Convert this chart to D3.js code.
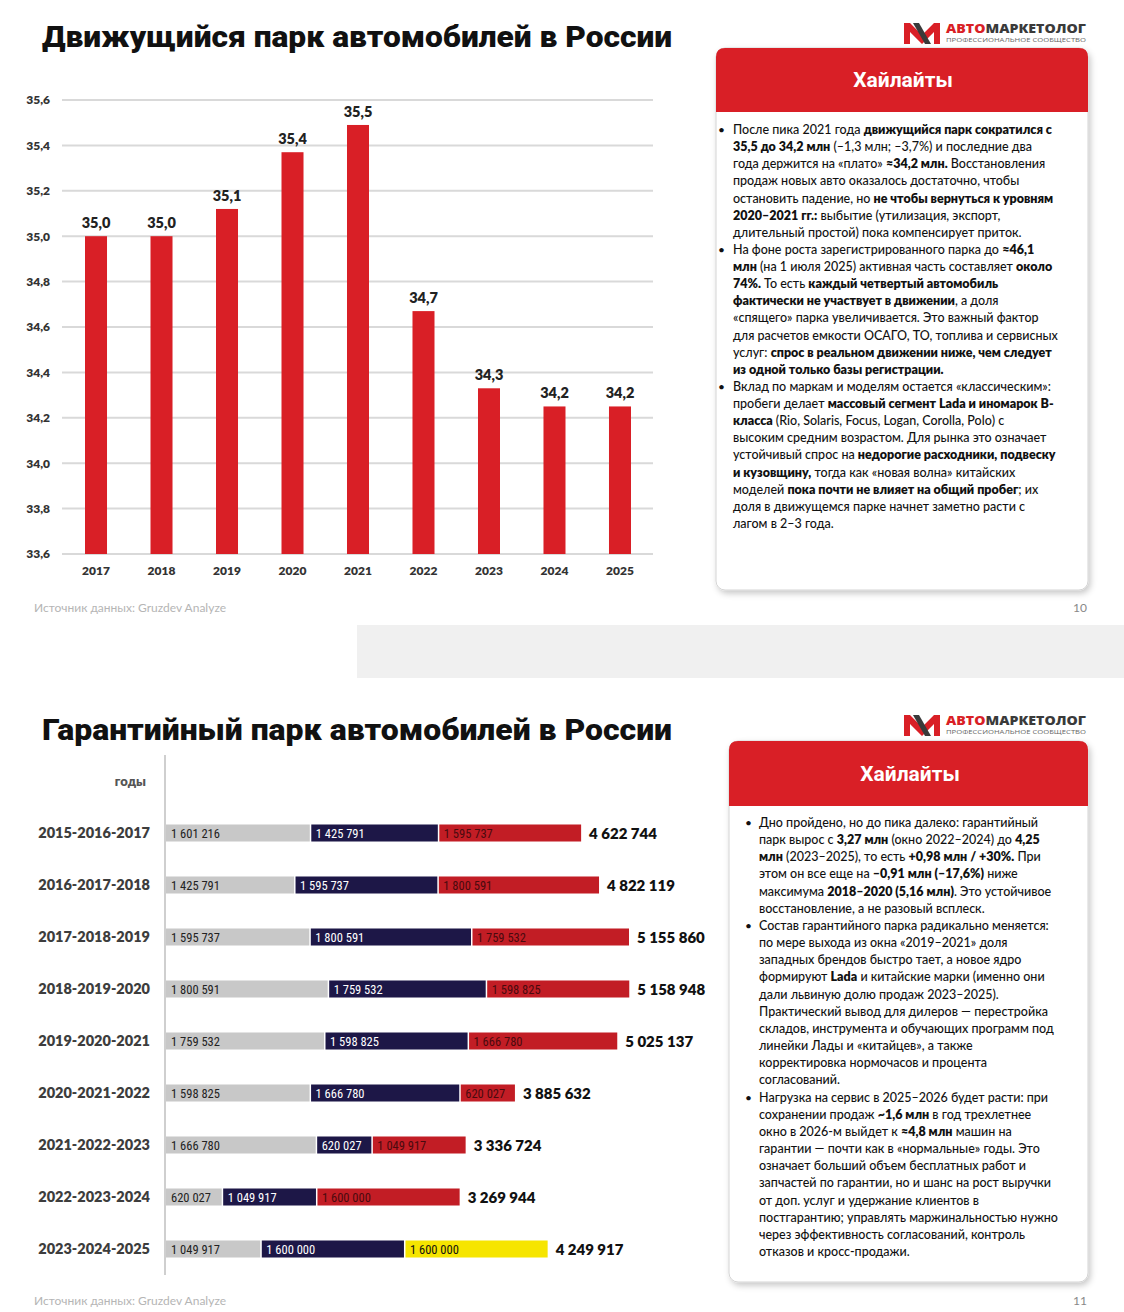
<!DOCTYPE html>
<html><head><meta charset="utf-8">
<script src="https://cdn.jsdelivr.net/npm/d3@7/dist/d3.min.js"></script>
<style>body{margin:0;background:#fff}svg{display:block}</style>
</head><body>
<script>
// ---------- data: chart 1 ----------
const years = ["2017","2018","2019","2020","2021","2022","2023","2024","2025"];
const fleetValues = [35.0, 35.0, 35.12, 35.37, 35.49, 34.67, 34.33, 34.25, 34.25];
const fleetLabels = ["35,0","35,0","35,1","35,4","35,5","34,7","34,3","34,2","34,2"];
const yTicks = [33.6,33.8,34.0,34.2,34.4,34.6,34.8,35.0,35.2,35.4,35.6];

// ---------- data: chart 2 ----------
const windows = ["2015-2016-2017","2016-2017-2018","2017-2018-2019","2018-2019-2020","2019-2020-2021","2020-2021-2022","2021-2022-2023","2022-2023-2024","2023-2024-2025"];
const firstYear  = [1601216,1425791,1595737,1800591,1759532,1598825,1666780,620027,1049917];
const secondYear = [1425791,1595737,1800591,1759532,1598825,1666780,620027,1049917,1600000];
const thirdYear  = [1595737,1800591,1759532,1598825,1666780,620027,1049917,1600000,1600000];
const forecastWindow = "2023-2024-2025";

const W = 1124, H = 1312;
const svg = d3.select("body").append("svg").attr("width", W).attr("height", H);
const defs = svg.append("defs");
const f = defs.append("filter").attr("id","sh").attr("x","-10%").attr("y","-10%").attr("width","125%").attr("height","125%");
f.append("feDropShadow").attr("dx",2).attr("dy",3).attr("stdDeviation",3).attr("flood-color","#000").attr("flood-opacity",0.22);

const RED = "#d91f26";
const TXT = "Lato, 'Open Sans', sans-serif";

// separator band between slides
svg.append("rect").attr("x",357).attr("y",625).attr("width",767).attr("height",53).attr("fill","#f0f0f0");

// ---------- helpers ----------
function title(text, y) {
  svg.append("text").attr("x",42).attr("y",y).text(text)
    .attr("font-family","Roboto, sans-serif").attr("font-weight",900).attr("font-size",29)
    .attr("fill","#111").attr("textLength",630).attr("lengthAdjust","spacingAndGlyphs");
}
function logo(dy) {
  const g = svg.append("g").attr("transform",`translate(0,${dy})`);
  g.append("path").attr("d","M904,44 L904,23 L910,23 L922,35 L934,23 L940,23 L940,44 L934,44 L934,32 L922,44 L910,32 L910,44 Z").attr("fill",RED);
  g.append("path").attr("d","M913,23 L919,23 L931,44 L925,44 Z").attr("fill","#3a3a3a");
  const t = g.append("text").attr("x",946).attr("y",33).attr("font-family","'Open Sans', sans-serif")
    .attr("font-weight",800).attr("font-size",13).attr("textLength",140).attr("lengthAdjust","spacingAndGlyphs");
  t.append("tspan").attr("fill",RED).text("АВТО");
  t.append("tspan").attr("fill","#3a3a3a").text("МАРКЕТОЛОГ");
  g.append("text").attr("x",946).attr("y",41.5).attr("font-family","'Open Sans', sans-serif").attr("font-size",6)
    .attr("fill","#666").attr("textLength",140).attr("lengthAdjust","spacingAndGlyphs").text("ПРОФЕССИОНАЛЬНОЕ СООБЩЕСТВО");
}
function panel(x, y, w, h, hh, cx) {
  svg.append("rect").attr("x",x).attr("y",y).attr("width",w).attr("height",h).attr("rx",9)
    .attr("fill","#fff").attr("stroke","#d4d4d4").attr("stroke-width",1).attr("filter","url(#sh)");
  svg.append("path").attr("d",`M${x},${y+hh} L${x},${y+9} Q${x},${y} ${x+9},${y} L${x+w-9},${y} Q${x+w},${y} ${x+w},${y+9} L${x+w},${y+hh} Z`)
    .attr("fill",RED);
  svg.append("text").attr("x",cx).attr("y",y+hh/2+7).attr("text-anchor","middle").attr("fill","#fff")
    .attr("font-family","Roboto, sans-serif").attr("font-weight",700).attr("font-size",21).text("Хайлайты");
}
function para(lines, x, y0, lh, bx, bulletIdx, maxW) {
  lines.forEach((ln, i) => {
    const t = svg.append("text").attr("x",x).attr("y",y0+i*lh).attr("font-family",TXT)
      .attr("font-size",12.5).attr("fill","#111");
    ln.split("**").forEach((s, k) => {
      if (s.length) t.append("tspan").attr("font-weight", k%2 ? 800 : 500).text(s);
    });
    const L = t.node().getComputedTextLength();
    if (L > maxW) t.attr("textLength",maxW).attr("lengthAdjust","spacingAndGlyphs");
    if (bulletIdx.includes(i)) svg.append("text").attr("x",bx).attr("y",y0+i*lh).attr("font-family",TXT)
      .attr("font-size",12).attr("fill","#111").text("•");
  });
}
function source(y, page) {
  svg.append("text").attr("x",34).attr("y",y).attr("font-family",TXT).attr("font-size",12)
    .attr("fill","#b5b5b5").text("Источник данных: Gruzdev Analyze");
  svg.append("text").attr("x",1087).attr("y",y).attr("text-anchor","end").attr("font-family",TXT).attr("font-size",12)
    .attr("fill","#888").text(page);
}

// ================= SLIDE 1 =================
title("Движущийся парк автомобилей в России", 47);
logo(0);

const y1 = d3.scaleLinear().domain([33.6, 35.6]).range([554, 100]);
const x1 = d3.scaleBand().domain(years).range([63, 653]).paddingInner(0.664).paddingOuter(0.336);

const g1 = svg.append("g");
g1.selectAll("line.grid").data(yTicks).join("line")
  .attr("x1",62).attr("x2",653).attr("y1",d=>y1(d)).attr("y2",d=>y1(d))
  .attr("stroke","#d9d9d9").attr("stroke-width",2);
const yAx = g1.append("g").attr("transform","translate(56,0)")
  .call(d3.axisLeft(y1).tickValues(yTicks).tickSize(0).tickPadding(6).tickFormat(d=>d3.format(".1f")(d).replace(".",",")));
yAx.select(".domain").remove();
yAx.selectAll("text").attr("font-family",TXT).attr("font-weight",800).attr("font-size",12).attr("fill","#333");

g1.selectAll("rect.bar").data(years).join("rect")
  .attr("x",d=>x1(d)).attr("width",x1.bandwidth())
  .attr("y",(d,i)=>y1(fleetValues[i])).attr("height",(d,i)=>y1(33.6)-y1(fleetValues[i]))
  .attr("fill",RED);
g1.selectAll("text.val").data(years).join("text")
  .attr("x",d=>x1(d)+x1.bandwidth()/2).attr("y",(d,i)=>y1(fleetValues[i])-8)
  .attr("text-anchor","middle").attr("font-family",TXT).attr("font-weight",800).attr("font-size",14.5)
  .attr("fill","#222").text((d,i)=>fleetLabels[i]);
const xAx = g1.append("g").attr("transform","translate(0,560)").call(d3.axisBottom(x1).tickSize(0).tickPadding(6));
xAx.select(".domain").remove();
xAx.selectAll("text").attr("font-family",TXT).attr("font-weight",800).attr("font-size",12).attr("fill","#333");

panel(716, 48, 372, 542, 64, 903);
para([
  "После пика 2021 года **движущийся парк сократился с**",
  "**35,5 до 34,2 млн** (–1,3 млн; –3,7%) и последние два",
  "года держится на «плато» **≈34,2 млн.** Восстановления",
  "продаж новых авто оказалось достаточно, чтобы",
  "остановить падение, но **не чтобы вернуться к уровням**",
  "**2020–2021 гг.:** выбытие (утилизация, экспорт,",
  "длительный простой) пока компенсирует приток.",
  "На фоне роста зарегистрированного парка до **≈46,1**",
  "**млн** (на 1 июля 2025) активная часть составляет **около**",
  "**74%.** То есть **каждый четвертый автомобиль**",
  "**фактически не участвует в движении**, а доля",
  "«спящего» парка увеличивается. Это важный фактор",
  "для расчетов емкости ОСАГО, ТО, топлива и сервисных",
  "услуг: **спрос в реальном движении ниже, чем следует**",
  "**из одной только базы регистрации.**",
  "Вклад по маркам и моделям остается «классическим»:",
  "пробеги делает **массовый сегмент Lada и иномарок В-**",
  "**класса** (Rio, Solaris, Focus, Logan, Corolla, Polo) с",
  "высоким средним возрастом. Для рынка это означает",
  "устойчивый спрос на **недорогие расходники, подвеску**",
  "**и кузовщину,** тогда как «новая волна» китайских",
  "моделей **пока почти не влияет на общий пробег**; их",
  "доля в движущемся парке начнет заметно расти с",
  "лагом в 2–3 года."
], 733, 134, 17.13, 718, [0,7,15], 338);
source(612, "10");

// ================= SLIDE 2 =================
title("Гарантийный парк автомобилей в России", 740);
logo(692);

const fmt = d3.formatLocale({decimal:",", thousands:"\u00a0", grouping:[3], currency:["",""]}).format(",d");
const x2 = d3.scaleLinear().domain([0, 5e6]).range([166, 615]);
const y2 = d3.scaleBand().domain(windows).range([807, 1275]).paddingInner(0.673).paddingOuter(0.3365);
const g2 = svg.append("g");
g2.append("line").attr("x1",165).attr("x2",165).attr("y1",755).attr("y2",1275).attr("stroke","#cfcfcf").attr("stroke-width",2);
g2.append("text").attr("x",146).attr("y",786).attr("text-anchor","end").attr("font-family",TXT).attr("font-weight",800)
  .attr("font-size",13).attr("fill","#555").text("годы");

const yAx2 = g2.append("g").attr("transform","translate(156,0)").call(d3.axisLeft(y2).tickSize(0).tickPadding(6));
yAx2.select(".domain").remove();
yAx2.selectAll("text").attr("font-family",TXT).attr("font-weight",800).attr("font-size",14.5).attr("fill","#3d3d3d");

const segs = [];
windows.forEach((w, i) => {
  const vals = [firstYear[i], secondYear[i], thirdYear[i]];
  let c = 0;
  vals.forEach((v, k) => { segs.push({w, k, v, x0:c, x1:c+v}); c += v; });
});
const segFill = d => d.k===0 ? "#c8c8c8" : d.k===1 ? "#1d1747" : (d.w===forecastWindow ? "#f6e500" : "#c21d25");
const segTxt = d => d.k===0 ? "#222" : d.k===1 ? "#fff" : (d.w===forecastWindow ? "#111" : "#4a0a0e");
g2.selectAll("rect.seg").data(segs).join("rect")
  .attr("x",d=>x2(d.x0)+(d.k?1.5:0)).attr("width",d=>x2(d.x1)-x2(d.x0)-(d.k?1.5:0))
  .attr("y",d=>y2(d.w)).attr("height",y2.bandwidth()).attr("fill",segFill);
g2.selectAll("text.seg").data(segs).join("text")
  .attr("x",d=>x2(d.x0)+(d.k?6:5)).attr("y",d=>y2(d.w)+y2.bandwidth()/2+4.5)
  .attr("font-family","'Liberation Sans Narrow', 'Roboto Condensed', Lato, sans-serif").attr("font-size",12.5)
  .attr("fill",segTxt).text(d=>fmt(d.v));
g2.selectAll("text.tot").data(windows).join("text")
  .attr("x",(d,i)=>x2(firstYear[i]+secondYear[i]+thirdYear[i])+8).attr("y",d=>y2(d)+y2.bandwidth()/2+5.5)
  .attr("font-family",TXT).attr("font-weight",800).attr("font-size",15).attr("fill","#111")
  .text((d,i)=>fmt(firstYear[i]+secondYear[i]+thirdYear[i]));

panel(729, 741, 359, 541, 65, 910);
para([
  "Дно пройдено, но до пика далеко: гарантийный",
  "парк вырос с **3,27 млн** (окно 2022–2024) до **4,25**",
  "**млн** (2023–2025), то есть **+0,98 млн / +30%.** При",
  "этом он все еще на **–0,91 млн (–17,6%)** ниже",
  "максимума **2018–2020 (5,16 млн)**. Это устойчивое",
  "восстановление, а не разовый всплеск.",
  "Состав гарантийного парка радикально меняется:",
  "по мере выхода из окна «2019–2021» доля",
  "западных брендов быстро тает, а новое ядро",
  "формируют **Lada** и китайские марки (именно они",
  "дали львиную долю продаж 2023–2025).",
  "Практический вывод для дилеров — перестройка",
  "складов, инструмента и обучающих программ под",
  "линейки Лады и «китайцев», а также",
  "корректировка нормочасов и процента",
  "согласований.",
  "Нагрузка на сервис в 2025–2026 будет расти: при",
  "сохранении продаж **~1,6 млн** в год трехлетнее",
  "окно в 2026-м выйдет к **≈4,8 млн** машин на",
  "гарантии — почти как в «нормальные» годы. Это",
  "означает больший объем бесплатных работ и",
  "запчастей по гарантии, но и шанс на рост выручки",
  "от доп. услуг и удержание клиентов в",
  "постгарантию; управлять маржинальностью нужно",
  "через эффективность согласований, контроль",
  "отказов и кросс-продажи."
], 759, 827, 17.16, 745, [0,6,16], 313);
source(1305, "11");
</script>
</body></html>
